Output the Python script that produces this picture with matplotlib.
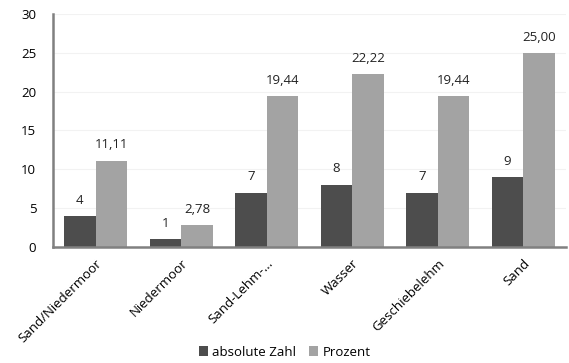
import matplotlib
matplotlib.use("Agg")
import matplotlib.pyplot as plt
import numpy as np

plt.rcParams.update({
    "font.family": ["Open Sans", "DejaVu Sans"],
    "font.size": 9.5,
})

CATEGORIES = ["Sand/Niedermoor", "Niedermoor", "Sand-Lehm-...", "Wasser",
              "Geschiebelehm", "Sand"]
ABSOLUT = [4, 1, 7, 8, 7, 9]
PROZENT = [11.11, 2.78, 19.44, 22.22, 19.44, 25.00]
SERIES_LABELS = ["absolute Zahl", "Prozent"]
COLORS = ["#4d4d4d", "#a3a3a3"]

fig = plt.figure(figsize=(5.69, 3.63), dpi=100)
ax = fig.add_axes([0.093, 0.32, 0.902, 0.641])

x = np.arange(len(CATEGORIES))
w = 0.37
b1 = ax.bar(x - w / 2, ABSOLUT, w, color=COLORS[0], label=SERIES_LABELS[0], zorder=2)
b2 = ax.bar(x + w / 2, PROZENT, w, color=COLORS[1], label=SERIES_LABELS[1], zorder=2)

for bar, v in zip(b1, ABSOLUT):
    ax.text(bar.get_x() + bar.get_width() / 2, v + 1.2, f"{v}",
            ha="center", va="bottom", color="#222222")
for bar, v in zip(b2, PROZENT):
    ax.text(bar.get_x() + bar.get_width() / 2, v + 1.2, f"{v:.2f}".replace(".", ","),
            ha="center", va="bottom", color="#222222")

ax.set_xlim(-0.5, len(CATEGORIES) - 0.5)
ax.set_ylim(0, 30)
ax.set_yticks(range(0, 31, 5))
ax.set_xticks(x)
ax.set_xticklabels(CATEGORIES, rotation=45, ha="right", rotation_mode="anchor")
ax.tick_params(length=0)
ax.tick_params(axis="y", pad=12)
ax.tick_params(axis="x", pad=7)
ax.grid(axis="y", color="#f2f2f2", linewidth=0.8, zorder=0)

for s in ("top", "right"):
    ax.spines[s].set_visible(False)
for s in ("left", "bottom"):
    ax.spines[s].set_color("#808080")
    ax.spines[s].set_linewidth(1.8)

fig.legend(handles=[b1, b2], labels=SERIES_LABELS, loc="center",
           bbox_to_anchor=(0.5, 0.03), ncol=2, frameon=False,
           handlelength=0.7, handleheight=0.7, handletextpad=0.3, columnspacing=1.0)

fig.savefig("out.png", dpi=100)
